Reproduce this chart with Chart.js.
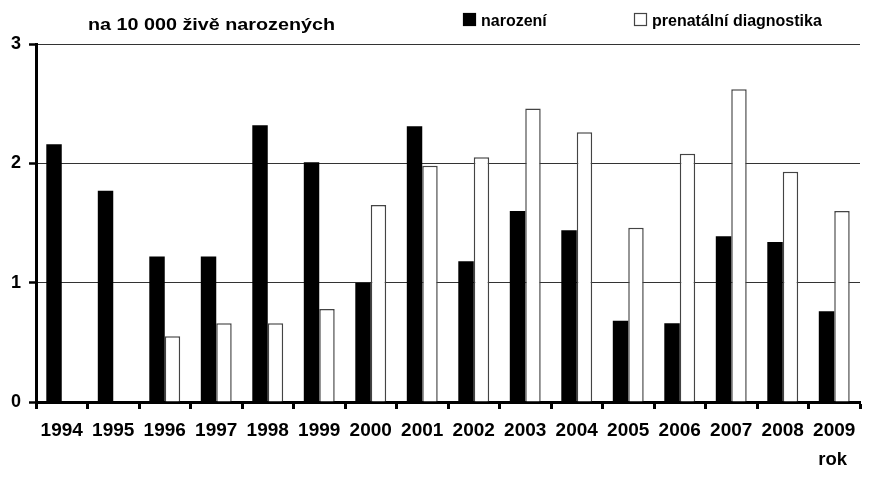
<!DOCTYPE html>
<html>
<head>
<meta charset="utf-8">
<script src="https://cdn.jsdelivr.net/npm/chart.js@4"></script>
<style>
  html, body { margin: 0; padding: 0; background: #fff; }
  #wrap { width: 869px; height: 483px; }
</style>
</head>
<body>
<div id="wrap"><canvas id="canvas-vady"></canvas></div>
<script>
var years = ['1994', '1995', '1996', '1997', '1998', '1999', '2000', '2001',
             '2002', '2003', '2004', '2005', '2006', '2007', '2008', '2009'];
var narozeni = [2.16, 1.77, 1.22, 1.22, 2.32, 2.01, 1.00, 2.31,
                1.18, 1.60, 1.44, 0.68, 0.66, 1.39, 1.34, 0.76];
var prenatalni = [0, 0, 0.55, 0.66, 0.66, 0.78, 1.65, 1.98,
                  2.05, 2.46, 2.26, 1.46, 2.08, 2.62, 1.93, 1.60];
var yTicks = [0, 1, 2, 3];

var FONT = '"Liberation Sans", Arial, sans-serif';

// nadpis, legenda a popisek osy "rok"
var texty = {
    id: 'texty',
    afterDraw: function(chart) {
        var ctx = chart.ctx;
        var ds = chart.data.datasets;
        ctx.save();
        ctx.fillStyle = '#000';
        ctx.textBaseline = 'alphabetic';
        ctx.textAlign = 'left';

        // nadpis je v originale roztazeny do sirky
        var nadpis = 'na 10 000 živě narozených';
        ctx.font = 'bold 17px ' + FONT;
        var sx = 247 / ctx.measureText(nadpis).width;
        ctx.save();
        ctx.translate(88, 30);
        ctx.scale(sx, 1);
        ctx.fillText(nadpis, 0, 0);
        ctx.restore();

        ctx.font = 'bold 16px ' + FONT;
        var items = [{x: 463, ds: ds[0]}, {x: 634, ds: ds[1]}];
        items.forEach(function(it) {
            ctx.fillStyle = it.ds.backgroundColor;
            ctx.fillRect(it.x, 13, 13, 13);
            ctx.strokeStyle = it.ds.borderColor;
            ctx.lineWidth = 1.2;
            ctx.strokeRect(it.x + 0.5, 13.5, 12, 12);
            ctx.fillStyle = '#000';
            ctx.fillText(it.ds.label, it.x + 18, 26);
        });

        ctx.font = 'bold 18.5px ' + FONT;
        ctx.textAlign = 'right';
        ctx.fillText('rok', 847, 465);
        ctx.restore();
    }
};

var config = {
    type: 'bar',
    data: {
        labels: years,
        datasets: [{
            label: 'narození',
            data: narozeni,
            backgroundColor: '#000',
            borderColor: '#000',
            borderWidth: 0
        }, {
            label: 'prenatální diagnostika',
            data: prenatalni,
            backgroundColor: '#fff',
            borderColor: '#444',
            borderWidth: 1.5
        }]
    },
    options: {
        responsive: false,
        animation: false,
        devicePixelRatio: 1,
        categoryPercentage: 0.6,
        barPercentage: 1.0,
        layout: {
            padding: { top: 44, right: 9, left: 0, bottom: 0 }
        },
        plugins: {
            legend: { display: false },
            title: { display: false },
            tooltip: { enabled: false }
        },
        scales: {
            x: {
                offset: true,
                grid: {
                    offset: true,
                    drawOnChartArea: false,
                    drawTicks: true,
                    tickLength: 7,
                    tickWidth: 3,
                    tickColor: '#000'
                },
                border: { display: true, color: '#000', width: 3 },
                ticks: {
                    color: '#000',
                    padding: 10,
                    maxRotation: 0,
                    autoSkip: false,
                    font: { family: FONT, size: 19, weight: 'bold' }
                },
                afterFit: function(scale) { scale.height = 81; }
            },
            y: {
                min: 0,
                max: 3,
                afterBuildTicks: function(scale) {
                    scale.ticks = yTicks.map(function(v) { return {value: v}; });
                },
                grid: {
                    color: '#333',
                    lineWidth: 1,
                    drawTicks: true,
                    tickLength: 7,
                    tickWidth: 2.5,
                    tickColor: '#000'
                },
                border: { display: true, color: '#000', width: 3 },
                ticks: {
                    color: '#000',
                    padding: 8,
                    font: { family: FONT, size: 18, weight: 'bold' }
                },
                afterFit: function(scale) { scale.width = 36; }
            }
        }
    },
    plugins: [texty]
};

var canvas = document.getElementById('canvas-vady');
canvas.width = 869;
canvas.height = 483;
var vadyChart = new Chart(canvas, config);
</script>
</body>
</html>
